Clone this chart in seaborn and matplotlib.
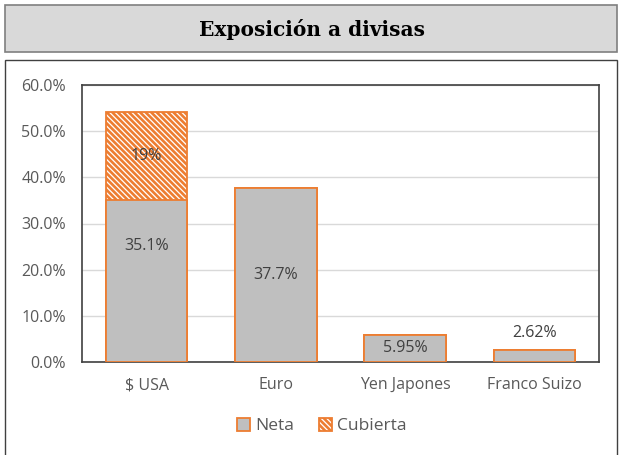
import matplotlib
matplotlib.use("Agg")
import matplotlib.pyplot as plt
from matplotlib.patches import Patch, Rectangle
import seaborn as sns
import pandas as pd

categorias = ["$ USA", "Euro", "Yen Japones", "Franco Suizo"]
neta = [35.1, 37.7, 5.95, 2.62]
cubierta = [19.0, 0.0, 0.0, 0.0]
etiquetas_neta = ["35.1%", "37.7%", "5.95%", "2.62%"]
etiquetas_cubierta = ["19%", "", "", ""]
ticks_y = [0, 10, 20, 30, 40, 50, 60]

NARANJA = "#ed7d31"
GRIS = "#bfbfbf"
TEXTO = "#595959"
ETIQ = "#404040"
RAYADO = "\\" * 6

sns.set_theme(style="white")
plt.rcParams["font.family"] = ["Open Sans", "DejaVu Sans"]
plt.rcParams["hatch.linewidth"] = 1.9
plt.rcParams["hatch.color"] = "#e35f14"

df = pd.DataFrame({
    "categoria": categorias,
    "neta": neta,
    "total": [n + c for n, c in zip(neta, cubierta)],
})

fig = plt.figure(figsize=(6.21, 4.55), dpi=100)
W, H = 621, 455

# header box with title
fig.patches.append(Rectangle((5 / W, 1 - 52 / H), 612 / W, 47 / H,
                             transform=fig.transFigure, facecolor="#d9d9d9",
                             edgecolor="#7f7f7f", linewidth=1.2, zorder=-2))
fig.text(312 / W, 1 - 29 / H, "Exposición a divisas", ha="center", va="center",
         fontsize=14.5, fontweight="bold", family=["DejaVu Serif"], color="black")

# outer chart frame
fig.patches.append(Rectangle((5 / W, -0.01), 612 / W, 1 - 60 / H + 0.01,
                             transform=fig.transFigure, facecolor="white",
                             edgecolor="#404040", linewidth=1.0, zorder=-2))

ax = fig.add_axes([82 / W, 1 - 362 / H, 517 / W, 277 / H])
ax.set_zorder(3)
ax.patch.set_alpha(0)

# stacked bars: total (hatched) behind, net on top
sns.barplot(data=df, x="categoria", y="total", ax=ax, color="white",
            width=0.63, edgecolor=NARANJA, linewidth=1.3, hatch=RAYADO,
            saturation=1, zorder=2)
sns.barplot(data=df, x="categoria", y="neta", ax=ax, color=GRIS,
            width=0.63, edgecolor=NARANJA, linewidth=1.3,
            saturation=1, zorder=3)

ax.set_ylim(0, 60)
ax.set_yticks(ticks_y)
ax.set_yticklabels([f"{t:.1f}%" for t in ticks_y])
ax.set_xlabel("")
ax.set_ylabel("")
ax.yaxis.grid(True, color="#d9d9d9", linewidth=1.0, zorder=0)
ax.set_axisbelow(True)
for s in ax.spines.values():
    s.set_color("#404040")
    s.set_linewidth(1.2)
ax.tick_params(axis="both", length=0, labelsize=11.5, colors=TEXTO)
ax.tick_params(axis="y", pad=11.5)
ax.tick_params(axis="x", pad=11)

# data labels
pos_neta = [25.1, 37.7 / 2, 5.95 / 2, 2.62 + 3.6]
for i, (lab, y) in enumerate(zip(etiquetas_neta, pos_neta)):
    ax.text(i, y, lab, ha="center", va="center", fontsize=11.5, color=ETIQ, zorder=5)
for i, lab in enumerate(etiquetas_cubierta):
    if lab:
        ax.text(i, neta[i] + cubierta[i] / 2, lab, ha="center", va="center",
                fontsize=11.5, color=ETIQ, zorder=5)

handles = [
    Patch(facecolor=GRIS, edgecolor=NARANJA, linewidth=1.3, label="Neta"),
    Patch(facecolor="white", edgecolor=NARANJA, linewidth=1.3, hatch=RAYADO, label="Cubierta"),
]
fig.legend(handles=handles, loc="center", bbox_to_anchor=(322 / W, 1 - 426 / H),
           ncol=2, frameon=False, fontsize=12.5, handlelength=0.75, handleheight=0.75,
           handletextpad=0.3, columnspacing=1.4, labelcolor=TEXTO)

fig.savefig("out.png", dpi=100)
